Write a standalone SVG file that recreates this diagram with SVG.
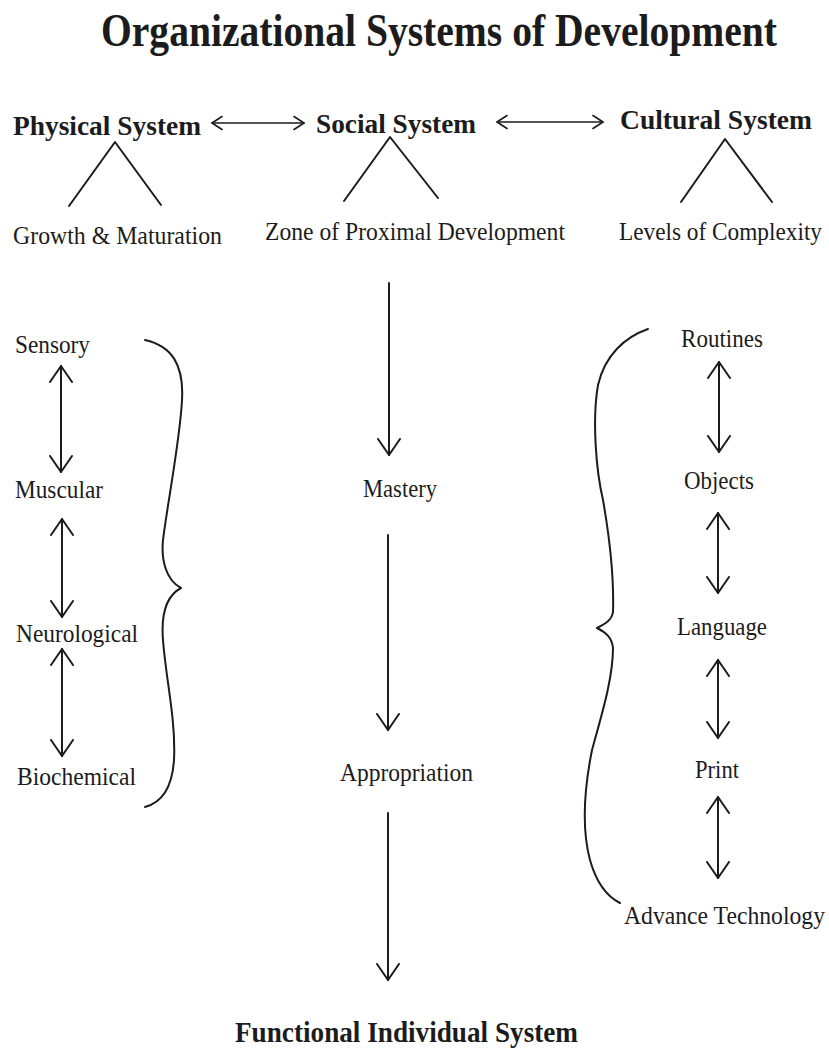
<svg xmlns="http://www.w3.org/2000/svg" width="829" height="1048" viewBox="0 0 829 1048">
<style>
text{font-family:"Liberation Serif","Times New Roman",serif;fill:#1c1c1c;}
.t{font-size:39.5px;font-weight:bold;}
.h{font-size:28px;font-weight:bold;}
.l{font-size:25px;}
.ls{font-size:23.5px;}
.f{font-size:29px;font-weight:bold;}
.ln{fill:none;stroke:#1c1c1c;stroke-width:2;stroke-linecap:round;stroke-linejoin:round;}
.v{marker-end:url(#hv);}
.vv{marker-start:url(#hv);marker-end:url(#hv);}
.hh{marker-start:url(#hs);marker-end:url(#hs);stroke-width:1.6;}
</style>
<defs>
<marker id="hv" viewBox="-1 -1 18 26" refX="16" refY="12" markerWidth="18" markerHeight="26" markerUnits="userSpaceOnUse" orient="auto-start-reverse">
<path d="M0,1 L16,12 L0,23" fill="none" stroke="#1c1c1c" stroke-width="2" stroke-linecap="round" stroke-linejoin="round"/>
</marker>
<marker id="hs" viewBox="-1 -1 12 16" refX="10" refY="7" markerWidth="12" markerHeight="16" markerUnits="userSpaceOnUse" orient="auto-start-reverse">
<path d="M0,0.5 L10,7 L0,13.5" fill="none" stroke="#1c1c1c" stroke-width="1.6" stroke-linecap="round" stroke-linejoin="round"/>
</marker>
</defs>
<rect width="829" height="1048" fill="#ffffff"/>
<g id="title"><text class="t" transform="translate(101,46) scale(1,1.2)" textLength="676" lengthAdjust="spacingAndGlyphs">Organizational Systems of Development</text></g>
<g id="physical-system"><text class="h" x="13" y="135" textLength="188" lengthAdjust="spacingAndGlyphs">Physical System</text></g>
<g id="social-system"><text class="h" x="316" y="133" textLength="160" lengthAdjust="spacingAndGlyphs">Social System</text></g>
<g id="cultural-system"><text class="h" x="620" y="129" textLength="192" lengthAdjust="spacingAndGlyphs">Cultural System</text></g>
<g id="growth"><text class="l" x="13" y="244" textLength="209" lengthAdjust="spacingAndGlyphs">Growth &amp; Maturation</text></g>
<g id="zpd"><text class="l" x="265" y="240" textLength="300" lengthAdjust="spacingAndGlyphs">Zone of Proximal Development</text></g>
<g id="levels"><text class="ls" transform="translate(619,240) scale(1,1.07)" textLength="203" lengthAdjust="spacingAndGlyphs">Levels of Complexity</text></g>
<g id="sensory"><text class="l" x="15" y="353" textLength="75" lengthAdjust="spacingAndGlyphs">Sensory</text></g>
<g id="muscular"><text class="l" x="15" y="498" textLength="88" lengthAdjust="spacingAndGlyphs">Muscular</text></g>
<g id="neurological"><text class="l" x="16" y="642" textLength="122" lengthAdjust="spacingAndGlyphs">Neurological</text></g>
<g id="biochemical"><text class="l" x="17" y="785" textLength="119" lengthAdjust="spacingAndGlyphs">Biochemical</text></g>
<g id="mastery"><text class="l" x="363" y="497" textLength="74" lengthAdjust="spacingAndGlyphs">Mastery</text></g>
<g id="appropriation"><text class="l" x="340" y="781" textLength="133" lengthAdjust="spacingAndGlyphs">Appropriation</text></g>
<g id="routines"><text class="l" x="681" y="347" textLength="82" lengthAdjust="spacingAndGlyphs">Routines</text></g>
<g id="objects"><text class="l" x="684" y="489" textLength="70" lengthAdjust="spacingAndGlyphs">Objects</text></g>
<g id="language"><text class="l" x="677" y="635" textLength="90" lengthAdjust="spacingAndGlyphs">Language</text></g>
<g id="print"><text class="l" x="695" y="778" textLength="44" lengthAdjust="spacingAndGlyphs">Print</text></g>
<g id="advance-technology"><text class="ls" transform="translate(624,924) scale(1,1.07)" textLength="201" lengthAdjust="spacingAndGlyphs">Advance Technology</text></g>
<g id="functional-individual-system"><text class="f" x="235" y="1042" textLength="343" lengthAdjust="spacingAndGlyphs">Functional Individual System</text></g>
<g id="connectors">
<line class="ln hh" x1="212" y1="123" x2="304" y2="123"/>
<line class="ln hh" x1="497" y1="122" x2="603" y2="122"/>
<polyline class="ln" points="69,206 115,142 161,205"/>
<polyline class="ln" points="344,201 390,137 438,198"/>
<polyline class="ln" points="681,202 725,139 772,202"/>
<line class="ln vv" x1="61" y1="366" x2="61" y2="472"/>
<line class="ln vv" x1="62" y1="519" x2="62" y2="617"/>
<line class="ln vv" x1="62" y1="649" x2="62" y2="756"/>
<line class="ln v" x1="389" y1="283" x2="389" y2="455"/>
<line class="ln v" x1="388" y1="535" x2="388" y2="730"/>
<line class="ln v" x1="388" y1="813" x2="388" y2="980"/>
<line class="ln vv" x1="719" y1="362" x2="719" y2="452"/>
<line class="ln vv" x1="718" y1="513" x2="718" y2="593"/>
<line class="ln vv" x1="718" y1="660" x2="718" y2="738"/>
<line class="ln vv" x1="718" y1="797" x2="718" y2="878"/>
<path class="ln" d="M145,340 C172,346 184,365 182,400 C180,440 168,500 163,540 C161,560 166,580 181,588 C166,596 161,615 163,640 C166,680 176,720 174,760 C172,790 160,803 145,807"/>
<path class="ln" d="M648,329 C625,337 605,355 598,385 C592,420 596,470 603,500 C610,540 614,580 613,612 C612,620 605,624 597,628 C605,632 612,637 613,648 C613,680 600,720 592,750 C584,790 582,830 590,860 C597,885 608,897 620,903"/>
</g>
</svg>
